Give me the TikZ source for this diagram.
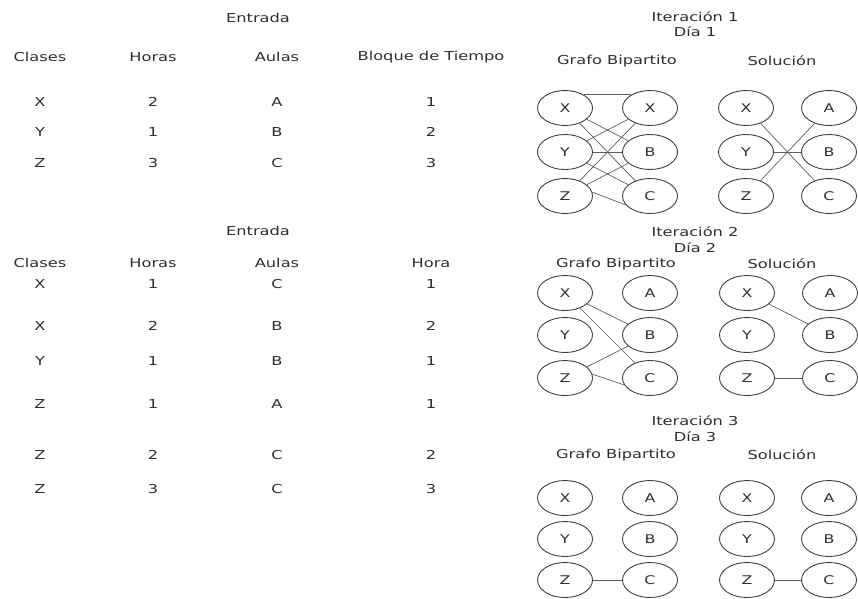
\documentclass[tikz,border=0pt]{standalone}
\usepackage{fontspec}
\setmainfont{DejaVu Sans}[FakeStretch=1.32]
\usetikzlibrary{shapes.geometric}
\definecolor{txt}{HTML}{2E2E2E}
\definecolor{ecol}{HTML}{404040}
\begin{document}
\begin{tikzpicture}[x=1pt,y=-1pt,
  lbl/.style={text=txt,font=\fontsize{12.3}{14}\selectfont,inner sep=1pt},
  vtx/.style={ellipse,draw=ecol,line width=0.9pt,minimum width=55,minimum height=35,inner sep=0pt,text=txt,font=\fontsize{12}{14}\selectfont},
  edgeline/.style={draw=ecol!85,line width=0.7pt}]
\useasboundingbox (0,0) rectangle (858,598);
% ---------- Table 1 ----------
\node[lbl] (e1) at (258,18) {Entrada};
\node[lbl] (h1a) at (40,57) {Clases};
\node[lbl] (h1b) at (153,57) {Horas};
\node[lbl] (h1c) at (277,57) {Aulas};
\node[lbl] (h1d) at (431,57) {Bloque de Tiempo};
\foreach \y/\a/\b/\c/\d [count=\i] in {102/X/2/A/1, 132/Y/1/B/2, 163/Z/3/C/3}{
  \node[lbl] (t1a\i) at (40,\y) {\a};
  \node[lbl] (t1b\i) at (153,\y) {\b};
  \node[lbl] (t1c\i) at (277,\y) {\c};
  \node[lbl] (t1d\i) at (431,\y) {\d};
}
% ---------- Table 2 ----------
\node[lbl] (e2) at (258,231) {Entrada};
\node[lbl] (h2a) at (40,263) {Clases};
\node[lbl] (h2b) at (153,263) {Horas};
\node[lbl] (h2c) at (277,263) {Aulas};
\node[lbl] (h2d) at (431,263) {Hora};
\foreach \y/\a/\b/\c/\d [count=\i] in {284/X/1/C/1, 326/X/2/B/2, 361/Y/1/B/1, 404/Z/1/A/1, 455/Z/2/C/2, 489/Z/3/C/3}{
  \node[lbl] (t2a\i) at (40,\y) {\a};
  \node[lbl] (t2b\i) at (153,\y) {\b};
  \node[lbl] (t2c\i) at (277,\y) {\c};
  \node[lbl] (t2d\i) at (431,\y) {\d};
}
% ---------- Iteration 1 ----------
\node[lbl] (it1) at (695,17) {Iteración 1};
\node[lbl] (d1) at (695,32) {Día 1};
\node[lbl] (gb1) at (617,61) {Grafo Bipartito};
\node[lbl] (so1) at (782,61) {Solución};
\node[vtx] (g1l1) at (565,108) {X};
\node[vtx] (g1l2) at (565,152) {Y};
\node[vtx] (g1l3) at (565,196) {Z};
\node[vtx] (g1r1) at (650,108) {X};
\node[vtx] (g1r2) at (650,152) {B};
\node[vtx] (g1r3) at (650,196) {C};
\node[vtx] (s1l1) at (746,108) {X};
\node[vtx] (s1l2) at (746,152) {Y};
\node[vtx] (s1l3) at (746,196) {Z};
\node[vtx] (s1r1) at (829,108) {A};
\node[vtx] (s1r2) at (829,152) {B};
\node[vtx] (s1r3) at (829,196) {C};
\draw[edgeline] (g1l1.35) -- (g1r1.145);
\draw[edgeline] (g1l1) -- (g1r2);
\draw[edgeline] (g1l1) -- (g1r3);
\draw[edgeline] (g1l2) -- (g1r1);
\draw[edgeline] (g1l2) -- (g1r2);
\draw[edgeline] (g1l2) -- (g1r3);
\draw[edgeline] (g1l3) -- (g1r1);
\draw[edgeline] (g1l3) -- (g1r2);
\draw[edgeline] (g1l3.8) -- (g1r3.200);
\draw[edgeline] (s1l1) -- (s1r3);
\draw[edgeline] (s1l2) -- (s1r2);
\draw[edgeline] (s1l3) -- (s1r1);
% ---------- Iteration 2 ----------
\node[lbl] (it2) at (695,232) {Iteración 2};
\node[lbl] (d2) at (695,248) {Día 2};
\node[lbl] (gb2) at (616,264) {Grafo Bipartito};
\node[lbl] (so2) at (782,264) {Solución};
\node[vtx] (g2l1) at (565,293) {X};
\node[vtx] (g2l2) at (565,335) {Y};
\node[vtx] (g2l3) at (565,378) {Z};
\node[vtx] (g2r1) at (650,293) {A};
\node[vtx] (g2r2) at (650,335) {B};
\node[vtx] (g2r3) at (650,378) {C};
\node[vtx] (s2l1) at (747,293) {X};
\node[vtx] (s2l2) at (747,335) {Y};
\node[vtx] (s2l3) at (747,378) {Z};
\node[vtx] (s2r1) at (830,293) {A};
\node[vtx] (s2r2) at (830,335) {B};
\node[vtx] (s2r3) at (830,378) {C};
\draw[edgeline] (g2l1) -- (g2r2);
\draw[edgeline] (g2l1) -- (g2r3);
\draw[edgeline] (g2l3) -- (g2r2);
\draw[edgeline] (g2l3.8) -- (g2r3.195);
\draw[edgeline] (s2l1) -- (s2r2);
\draw[edgeline] (s2l3) -- (s2r3);
% ---------- Iteration 3 ----------
\node[lbl] (it3) at (695,421) {Iteración 3};
\node[lbl] (d3) at (695,437) {Día 3};
\node[lbl] (gb3) at (616,455) {Grafo Bipartito};
\node[lbl] (so3) at (782,455) {Solución};
\node[vtx] (g3l1) at (565,498) {X};
\node[vtx] (g3l2) at (565,539) {Y};
\node[vtx] (g3l3) at (565,580) {Z};
\node[vtx] (g3r1) at (650,498) {A};
\node[vtx] (g3r2) at (650,539) {B};
\node[vtx] (g3r3) at (650,580) {C};
\node[vtx] (s3l1) at (747,498) {X};
\node[vtx] (s3l2) at (747,539) {Y};
\node[vtx] (s3l3) at (747,580) {Z};
\node[vtx] (s3r1) at (829,498) {A};
\node[vtx] (s3r2) at (829,539) {B};
\node[vtx] (s3r3) at (829,580) {C};
\draw[edgeline] (g3l3) -- (g3r3);
\draw[edgeline] (s3l3) -- (s3r3);
\end{tikzpicture}
\end{document}
